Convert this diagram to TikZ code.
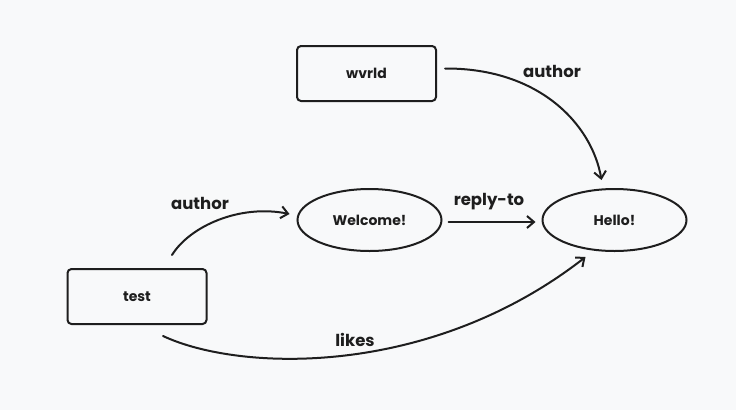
\documentclass[tikz,border=0pt]{standalone}
\usepackage{fontspec}
\setmainfont{Poppins}
\usepackage{tikz}
\usetikzlibrary{arrows.meta}
\definecolor{ink}{HTML}{1E1E1E}
\definecolor{paper}{HTML}{F8F9FA}
\tikzset{
    boxnode/.style={draw=ink, line width=2pt, rounded corners=4pt, minimum width=139pt, minimum height=55pt, font=\bfseries\fontsize{14}{16}\selectfont},
    ovalnode/.style={draw=ink, ellipse, line width=2pt, minimum width=144pt, minimum height=62pt, inner sep=0pt, font=\bfseries\fontsize{14}{16}\selectfont},
    edgelbl/.style={font=\bfseries\fontsize{16.5}{18}\selectfont, text=ink},
    link/.style={draw=ink, line width=2pt, line cap=round, -{Straight Barb[length=7pt, width=12pt, line width=2pt]}}
}
\usetikzlibrary{shapes.geometric}
\begin{document}
\begin{tikzpicture}[x=1pt, y=-1pt, text=ink]
    \fill [paper] (0,0) rectangle (736,410);
    \useasboundingbox (0,0) rectangle (736,410);

    \node [boxnode] (wvrld) at (366.5, 73.5) {wvrld};
    \node [boxnode] (test) at (137, 296.5) {test};
    \node [ovalnode] (welcome) at (369.5, 220) {Welcome!};
    \node [ovalnode] (hello) at (614.5, 220) {Hello!};

    \draw [link] ([shift={(8, -5)}]wvrld.east) .. controls (540, 68) and (592, 125) .. ([shift={(-13, -8)}]hello.north);
    \node [edgelbl] (lbl_wvrld) at (552, 71) {author};

    \draw [link] ([shift={(35, -13)}]test.north) .. controls (190, 226) and (240, 204) .. ([shift={(-7, -6)}]welcome.west);
    \node [edgelbl] (lbl_test) at (200, 203) {author};

    \draw [link] ([shift={(6, 2)}]welcome.east) -- ([shift={(-6, 2)}]hello.west);
    \node [edgelbl] (lbl_reply) at (489, 202) {reply-to};

    \draw [link] ([shift={(26, 11)}]test.south) .. controls (240, 372) and (430, 378) .. ([shift={(-29, 5)}]hello.south);
    \node [edgelbl] (lbl_likes) at (355, 340) {likes};

\end{tikzpicture}
\end{document}
